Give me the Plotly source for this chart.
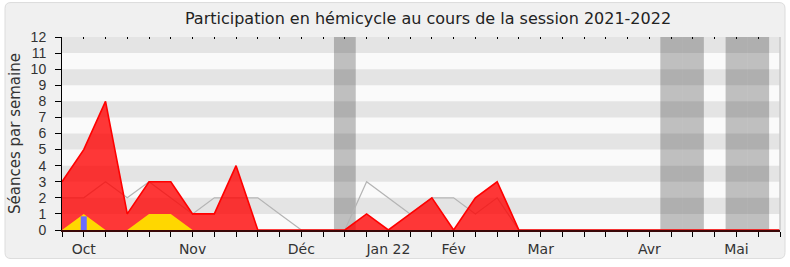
import plotly.graph_objects as go

# ---- data (weekly, week 0 = first week of the session) ----
weeks = list(range(34))
presence = [3, 5, 8, 1, 3, 3, 1, 1, 4, 0, 0, 0, 0, 0, 1, 0, 1, 2, 0, 2, 3, 0,
            0, 0, 0, 0, 0, 0, 0, 0, 0, 0, 0, 0]
interventions = [0, 1, 0, 0, 1, 1, 0, 0, 0, 0, 0, 0, 0, 0, 0, 0, 0, 0, 0, 0, 0, 0,
                 0, 0, 0, 0, 0, 0, 0, 0, 0, 0, 0, 0]
mediane = [2, 2, 3, 2, 3, 2, 1, 2, 2, 2, 1, 0, 0, 0, 3, 2, 1, 2, 2, 1, 2, 0,
           0, 0, 0, 0, 0, 0, 0, 0, 0, 0, 0, 0]
question_weeks = [1]
questions = [0.85]
vacance_weeks = [13, 28, 29, 31, 32]
month_tick_weeks = [1, 6, 11, 15, 18, 22, 27, 31]
month_tick_labels = ["Oct", "Nov", "Déc", "Jan 22", "Fév", "Mar", "Avr", "Mai"]
y_max = 12

FONT = "DejaVu Sans"
W, H = 790, 267
ML, MR, MT, MB = 62, 10, 37, 34
pw, ph = W - ML - MR, H - MT - MB

fig = go.Figure()

# vacation bands
fig.add_trace(go.Bar(x=vacance_weeks, y=[y_max] * len(vacance_weeks), width=1,
                     marker=dict(color="rgba(40,40,40,0.28)", line=dict(width=0)),
                     hoverinfo="skip", showlegend=False))
# median line
fig.add_trace(go.Scatter(x=weeks, y=mediane, mode="lines",
                         line=dict(color="#b4b4b4", width=1.2), showlegend=False))
# presence area
fig.add_trace(go.Scatter(x=weeks, y=presence, mode="lines", fill="tozeroy",
                         fillcolor="rgba(255,0,0,0.78)",
                         line=dict(color="#ff0000", width=1.6), showlegend=False))
# interventions area
fig.add_trace(go.Scatter(x=weeks, y=interventions, mode="lines", fill="tozeroy",
                         fillcolor="#ffd700", line=dict(color="#ffd700", width=0),
                         showlegend=False))
# questions (thin bars)
qx, qy = [], []
for w, v in zip(question_weeks, questions):
    qx += [w, w, None]
    qy += [0, v, None]
fig.add_trace(go.Scatter(x=qx, y=qy, mode="lines",
                         line=dict(color="#6a6aff", width=6), showlegend=False))
# invisible trace for top tick axis
fig.add_trace(go.Scatter(x=[weeks[0]], y=[0], xaxis="x2", mode="markers",
                         marker=dict(opacity=0), showlegend=False, hoverinfo="skip"))

tickvals = weeks
ticktext = [month_tick_labels[month_tick_weeks.index(w)] if w in month_tick_weeks else ""
            for w in weeks]

# background frame (rounded rectangle) in paper coords
def px_x(p):
    return (p - ML) / pw

def px_y(p):
    return (H - MB - p) / ph

x0, x1, y0, y1, r = 5, 785, 2, 262, 6
rx, ry = r / pw, r / ph
X0, X1, Y0, Y1 = px_x(x0), px_x(x1), px_y(y1), px_y(y0)
path = (f"M {X0+rx} {Y1} L {X1-rx} {Y1} Q {X1} {Y1} {X1} {Y1-ry} "
        f"L {X1} {Y0+ry} Q {X1} {Y0} {X1-rx} {Y0} L {X0+rx} {Y0} "
        f"Q {X0} {Y0} {X0} {Y0+ry} L {X0} {Y1-ry} Q {X0} {Y1} {X0+rx} {Y1} Z")

shapes = [
    dict(type="path", path=path, xref="paper", yref="paper", layer="below",
         fillcolor="#f0f0f0", line=dict(color="#dcdcdc", width=1)),
    dict(type="rect", xref="paper", yref="paper", x0=0, x1=1, y0=0, y1=1,
         layer="below", fillcolor="#fafafa", line=dict(width=0)),
]
for k in range(1, y_max, 2):
    shapes.append(dict(type="rect", xref="paper", yref="y", x0=0, x1=1, y0=k, y1=k + 1,
                       layer="below", fillcolor="#e4e4e4", line=dict(width=0)))
shapes.append(dict(type="line", xref="paper", yref="paper", x0=1, x1=1, y0=0, y1=1,
                   line=dict(color="#c8c8c8", width=1.5)))

fig.update_layout(
    width=W, height=H,
    margin=dict(l=ML, r=MR, t=MT, b=MB),
    paper_bgcolor="#ffffff", plot_bgcolor="rgba(0,0,0,0)",
    barmode="overlay",
    font=dict(family=FONT, color="#333333", size=14),
    title=dict(text="Participation en hémicycle au cours de la session 2021-2022",
               x=428 / W, xanchor="center", y=1 - 18 / H, yanchor="middle",
               font=dict(family=FONT, size=16, color="#222222")),
    shapes=shapes,
    xaxis=dict(range=[weeks[0], weeks[-1]], tickmode="array", tickvals=tickvals,
               ticktext=ticktext, ticks="outside", ticklen=5, tickcolor="#000000",
               showline=True, linecolor="#3a0808", linewidth=1.5, showgrid=False,
               zeroline=False, layer="above traces",
               tickfont=dict(size=14, color="#333333")),
    xaxis2=dict(range=[weeks[0], weeks[-1]], overlaying="x", side="top",
                tickmode="array", tickvals=tickvals, ticks="inside", ticklen=2,
                tickcolor="#000000", showticklabels=False, showline=False,
                showgrid=False, zeroline=False),
    yaxis=dict(range=[0, y_max], tickmode="array", tickvals=list(range(0, y_max + 1)),
               ticks="outside", ticklen=6, tickcolor="#000000", ticklabelstandoff=6,
               showline=True, linecolor="#000000", linewidth=1, showgrid=False,
               zeroline=False,
               tickfont=dict(family="Liberation Sans", size=14, color="#333333"),
               title=dict(text="Séances par semaine", standoff=6,
                          font=dict(size=15, color="#333333"))),
)

fig.write_html("out.html")
